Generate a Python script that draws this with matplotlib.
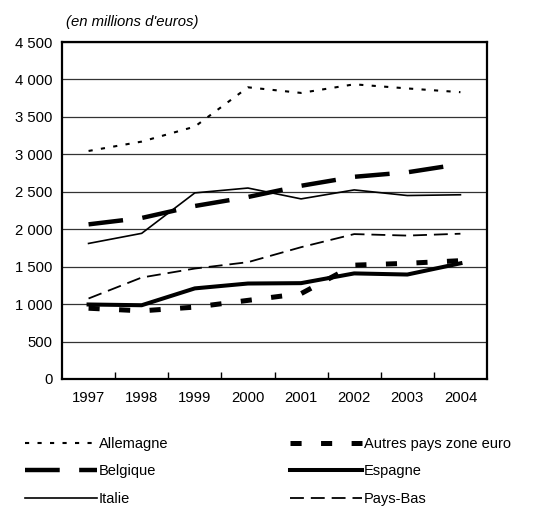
import matplotlib
matplotlib.use("Agg")
import matplotlib.pyplot as plt
import numpy as np

plt.rcParams['font.family'] = ['Liberation Sans', 'DejaVu Sans']
plt.rcParams['lines.scale_dashes'] = False

years = ['1997', '1998', '1999', '2000', '2001', '2002', '2003', '2004']
allemagne = [3045, 3170, 3370, 3895, 3820, 3935, 3880, 3830]
belgique = [2065, 2150, 2310, 2430, 2580, 2700, 2760, 2870]
italie = [1810, 1945, 2485, 2550, 2405, 2525, 2450, 2460]
pays_bas = [1075, 1355, 1475, 1560, 1760, 1935, 1915, 1940]
espagne = [995, 985, 1210, 1275, 1280, 1410, 1395, 1545]
autres = [945, 910, 960, 1050, 1140, 1520, 1545, 1580]

fig = plt.figure(figsize=(5.45, 5.12), dpi=100)
ax = fig.add_axes([62 / 545, 133 / 512, 425 / 545, 337 / 512])

x = np.arange(len(years))
l_all, = ax.plot(x, allemagne, color='black', lw=1.5, dashes=(3, 6), label='Allemagne')
l_bel, = ax.plot(x, belgique, color='black', lw=3.2, dashes=(25, 14), label='Belgique')
l_ita, = ax.plot(x, italie, color='black', lw=1.2, label='Italie')
l_aut, = ax.plot(x, autres, color='black', lw=3.6, dashes=(8, 14), label='Autres pays zone euro')
l_esp, = ax.plot(x, espagne, color='black', lw=2.9, label='Espagne')
l_pb, = ax.plot(x, pays_bas, color='black', lw=1.3, dashes=(10, 5), label='Pays-Bas')

ax.set_xlim(-0.5, 7.5)
ax.set_ylim(0, 4500)
ax.set_yticks(range(0, 4501, 500))
ax.set_yticklabels(['0', '500', '1 000', '1 500', '2 000', '2 500', '3 000', '3 500', '4 000', '4 500'])
ax.set_xticks(x)
ax.set_xticklabels(years)
ax.set_xticks(np.arange(0.5, 7, 1), minor=True)
ax.tick_params(axis='x', which='major', length=0, pad=9, labelsize=10.7)
ax.tick_params(axis='x', which='minor', direction='in', length=5, width=1)
ax.tick_params(axis='y', length=0, pad=7, labelsize=10.7)
ax.yaxis.grid(True, color='#333333', lw=0.9)
ax.set_axisbelow(True)
for s in ax.spines.values():
    s.set_linewidth(1.6)

fig.text(66 / 545, 1 - 22 / 512, "(en millions d'euros)", fontsize=10.7, style='italic', va='center')

leg_kw = dict(loc='upper left', frameon=False, fontsize=10.5, handlelength=4.93,
              handletextpad=0.15, labelspacing=0.92, borderpad=0, borderaxespad=0)
leg1 = fig.legend(handles=[l_all, l_bel, l_ita], bbox_to_anchor=(25 / 545, 1 - 437 / 512), **leg_kw)
leg2 = fig.legend(handles=[l_aut, l_esp, l_pb], bbox_to_anchor=(290 / 545, 1 - 437 / 512), **leg_kw)

fig.savefig('out.png', dpi=100)
